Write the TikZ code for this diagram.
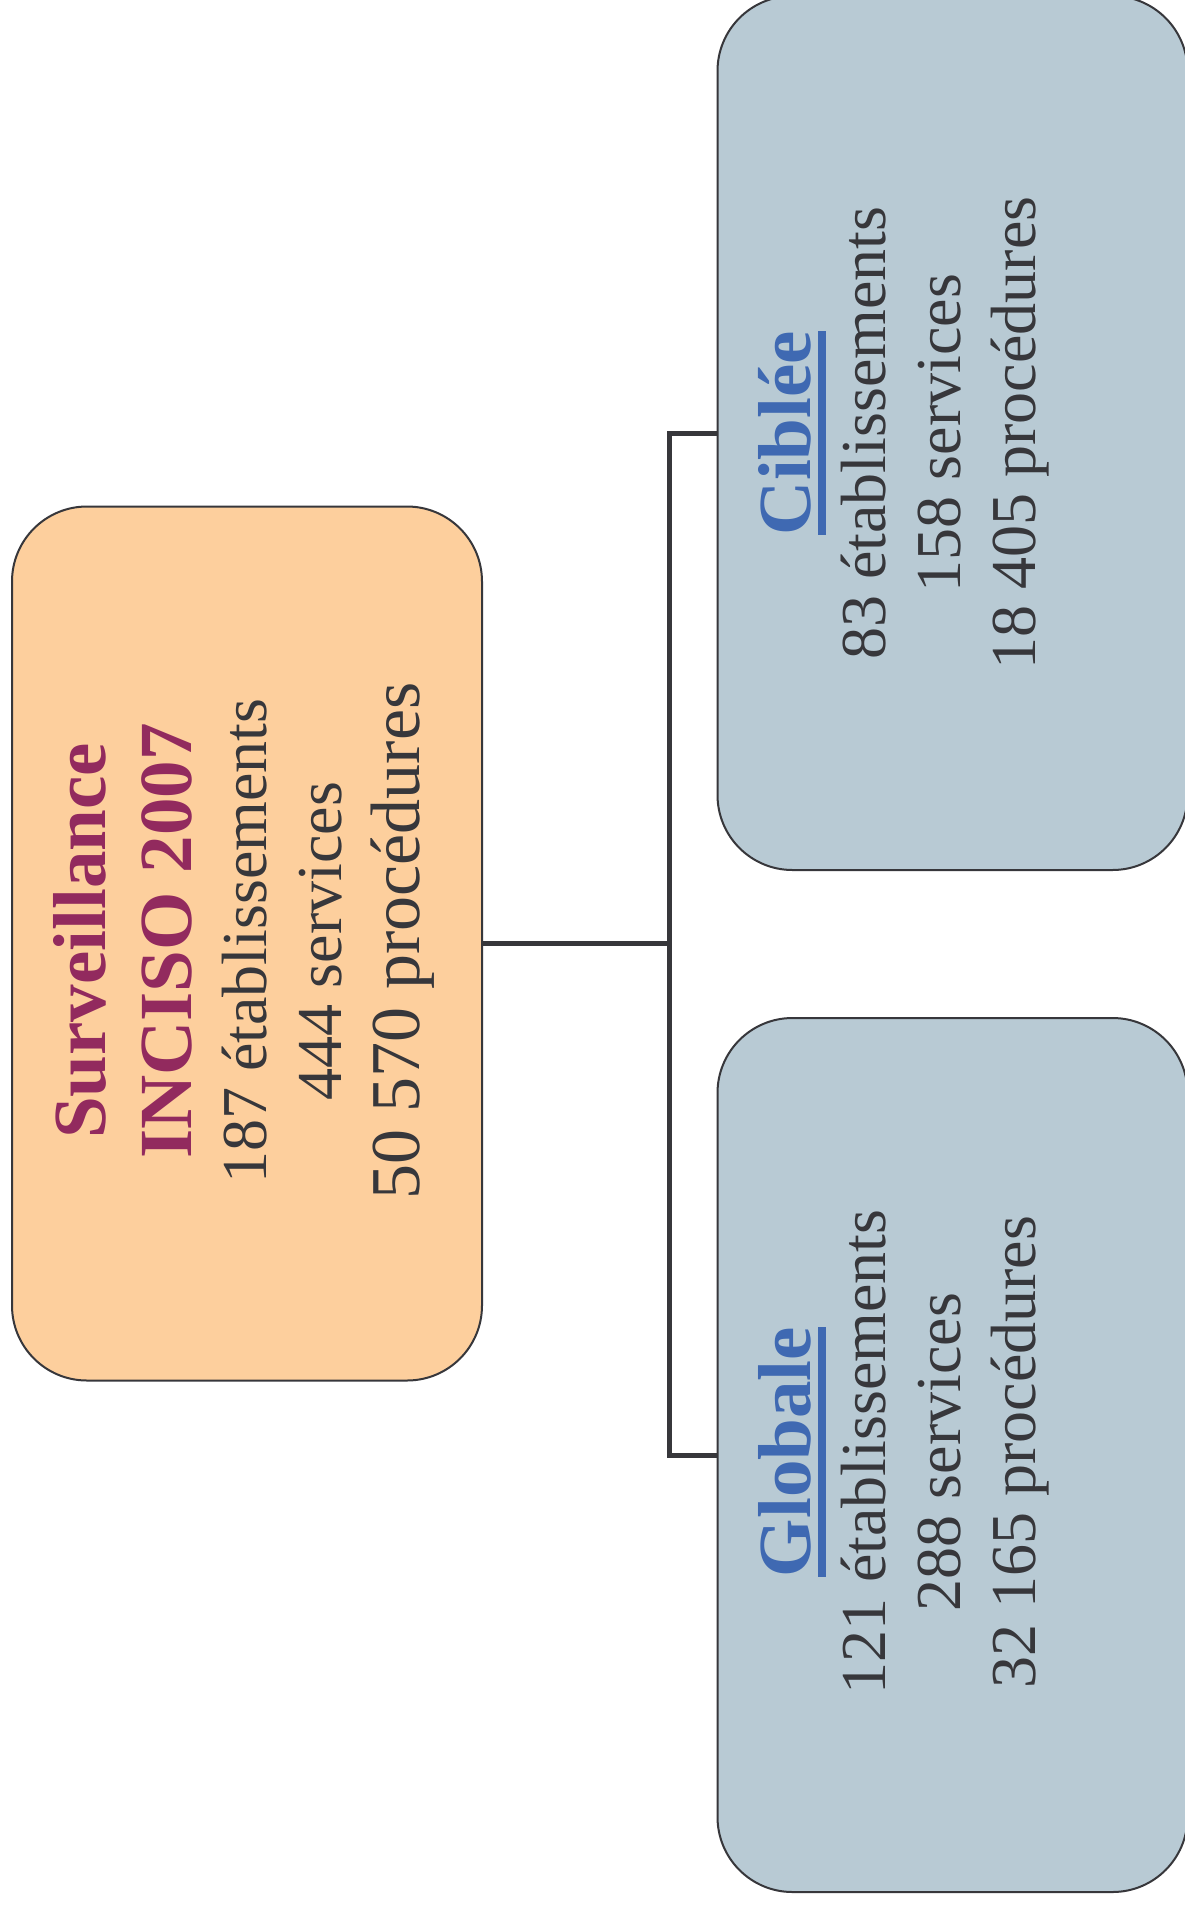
\documentclass[tikz,border=0pt]{standalone}
\usepackage{fontspec}
\setmainfont{Liberation Serif}
\definecolor{plum}{HTML}{922A5E}
\definecolor{titleblue}{HTML}{3F69B2}
\definecolor{ink}{HTML}{37373B}
\definecolor{peach}{HTML}{FDCF9D}
\definecolor{slate}{HTML}{B8CAD4}
\newsavebox\ulbox
\newcommand\thickul[1]{\sbox\ulbox{#1}\smash{\rlap{\rule[-15pt]{\wd\ulbox}{8pt}}}\usebox\ulbox}
\newcommand\titlefont{\fontsize{75}{75}\selectfont\bfseries}
\begin{document}
\begin{tikzpicture}[x=1pt,y=-1pt,
  box/.style={draw=ink, line width=2pt, rounded corners=75pt,
    minimum width=470pt, minimum height=874pt, inner sep=0pt},
  blocktext/.style={rotate=90, align=center, text=ink, inner sep=0pt,
    font=\fontsize{64}{75}\selectfont},
  link/.style={draw=ink, line width=5pt, line join=miter}]
\fill[white] (0,0) rectangle (1184,1906);
\useasboundingbox (0,0) rectangle (1184,1906);

\node[box, fill=peach] (L) at (247, 943.5) {};
\node[box, fill=slate] (T) at (952.5, 433) {};
\node[box, fill=slate] (B) at (952.5, 1455) {};

\coordinate (J) at (669, 943.5);
\draw[link] (L.east) -- (J);
\draw[link] (T.west) -- (T.west -| J) -- (B.west -| J) -- (B.west);

\node[blocktext] (Ltext) at (244, 941)
  {{\titlefont\color{plum}Surveillance}\\[11pt]
   {\titlefont\color{plum}INCISO 2007}\\
   187 établissements\\
   444 services\\[3pt]
   {\fontsize{70}{75}\selectfont 50 570 procédures}};

\node[blocktext] (Ttext) at (904, 433)
  {{\titlefont\color{titleblue}\thickul{Ciblée}}\\
   83 établissements\\
   158 services\\
   18 405 procédures};

\node[blocktext] (Btext) at (904, 1452)
  {{\titlefont\color{titleblue}\thickul{Globale}}\\
   121 établissements\\
   288 services\\
   32 165 procédures};
\end{tikzpicture}
\end{document}
